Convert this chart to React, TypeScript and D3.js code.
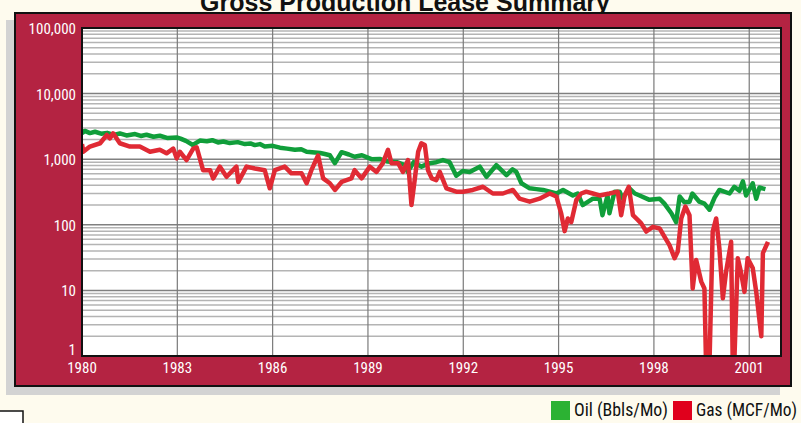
import * as d3 from "d3";
import { useRef, useEffect } from "react";

const titleText = "Gross Production Lease Summary";
const yTicks = [1, 10, 100, 1000, 10000, 100000];
const xTicks = [1980, 1983, 1986, 1989, 1992, 1995, 1998, 2001];
const legendLabels = ["Oil (Bbls/Mo)", "Gas (MCF/Mo)"];

// oil readings (decimal year, bbls/mo)
const oilYears = [
  1980.0, 1980.09, 1980.25, 1980.41, 1980.6, 1980.79, 1981.0, 1981.19, 1981.4, 1981.67,
  1981.85, 1982.03, 1982.25, 1982.45, 1982.7, 1982.98, 1983.1, 1983.27, 1983.49, 1983.71,
  1983.93, 1984.1, 1984.28, 1984.45, 1984.65, 1984.9, 1985.13, 1985.3, 1985.44, 1985.6,
  1985.75, 1986.0, 1986.23, 1986.45, 1986.7, 1986.9, 1987.07, 1987.33, 1987.5, 1987.64,
  1987.8, 1987.96, 1988.17, 1988.4, 1988.58, 1988.81, 1989.11, 1989.37, 1989.62, 1989.91,
  1990.16, 1990.25, 1990.44, 1990.68, 1990.94, 1991.15, 1991.36, 1991.57, 1991.78, 1991.98,
  1992.2, 1992.52, 1992.73, 1993.04, 1993.36, 1993.55, 1993.67, 1993.83, 1994.09, 1994.3,
  1994.51, 1994.72, 1994.93, 1995.14, 1995.45, 1995.6, 1995.76, 1996.08, 1996.29, 1996.38,
  1996.54, 1996.6, 1996.76, 1996.92, 1997.01, 1997.23, 1997.4, 1997.55, 1997.86, 1998.18,
  1998.33, 1998.55, 1998.7, 1998.81, 1998.96, 1999.12, 1999.21, 1999.43, 1999.59, 1999.75,
  1999.91, 2000.06, 2000.38, 2000.53, 2000.69, 2000.8, 2000.9, 2001.11, 2001.22, 2001.32,
  2001.51,
];
const oilValues = [
  2500, 2700, 2500, 2620, 2450, 2520, 2350, 2470, 2300, 2420,
  2260, 2360, 2200, 2280, 2100, 2150, 2060, 1900, 1650, 1920,
  1880, 1950, 1800, 1860, 1760, 1820, 1700, 1740, 1640, 1700,
  1560, 1600, 1500, 1450, 1390, 1420, 1300, 1270, 1240, 1200,
  1150, 870, 1280, 1180, 1090, 1150, 1000, 1010, 920, 900,
  810, 640, 900, 770, 870, 900, 970, 900, 560, 660,
  640, 770, 540, 810, 570, 700, 640, 430, 360, 350,
  340, 320, 300, 340, 280, 300, 200, 250, 250, 140,
  280, 150, 320, 320, 250, 360, 300, 280, 240, 250,
  210, 150, 110, 270, 220, 225, 300, 225, 210, 170,
  260, 340, 300, 380, 330, 460, 280, 430, 250, 370,
  350,
];

// gas readings (decimal year, mcf/mo)
const gasYears = [
  1980.0, 1980.04, 1980.25, 1980.57, 1980.78, 1980.88, 1980.98, 1981.19, 1981.51, 1981.82,
  1982.14, 1982.45, 1982.66, 1982.87, 1982.98, 1983.08, 1983.29, 1983.5, 1983.61, 1983.81,
  1984.03, 1984.13, 1984.34, 1984.55, 1984.86, 1984.92, 1985.18, 1985.44, 1985.75, 1985.91,
  1986.07, 1986.38, 1986.59, 1986.91, 1987.07, 1987.22, 1987.43, 1987.59, 1987.8, 1987.96,
  1988.17, 1988.48, 1988.58, 1988.8, 1989.06, 1989.27, 1989.47, 1989.63, 1989.74, 1989.95,
  1990.1, 1990.26, 1990.37, 1990.47, 1990.58, 1990.68, 1990.79, 1990.89, 1991.01, 1991.15,
  1991.26, 1991.47, 1991.78, 1991.99, 1992.3, 1992.62, 1992.93, 1993.25, 1993.56, 1993.77,
  1994.09, 1994.4, 1994.72, 1994.93, 1995.08, 1995.19, 1995.29, 1995.4, 1995.56, 1995.71,
  1995.87, 1996.08, 1996.29, 1996.6, 1996.86, 1996.97, 1997.08, 1997.21, 1997.34, 1997.5,
  1997.6, 1997.76, 1997.97, 1998.18, 1998.33, 1998.49, 1998.65, 1998.75, 1998.86, 1998.99,
  1999.12, 1999.22, 1999.33, 1999.49, 1999.59, 1999.64, 1999.75, 1999.85, 1999.96, 2000.06,
  2000.17, 2000.27, 2000.43, 2000.48, 2000.53, 2000.64, 2000.74, 2000.85, 2000.95, 2001.11,
  2001.22, 2001.38, 2001.43, 2001.59,
];
const gasValues = [
  1700, 1300, 1560, 1750, 2340, 2080, 2480, 1750, 1560, 1560,
  1300, 1390, 1230, 1450, 1030, 1300, 970, 1450, 1520, 680,
  680, 510, 770, 540, 770, 450, 770, 720, 680, 360,
  680, 770, 610, 610, 430, 680, 1140, 510, 430, 340,
  450, 510, 680, 510, 770, 640, 870, 1390, 870, 870,
  640, 970, 200, 480, 1300, 1750, 1650, 680, 510, 480,
  640, 360, 320, 320, 340, 380, 300, 300, 340, 250,
  225, 250, 300, 270, 150, 80, 125, 110, 240, 300,
  320, 300, 280, 300, 320, 140, 280, 380, 140, 118,
  105, 79, 93, 88, 66, 49, 31, 39, 125, 190,
  140, 10.7, 29, 13.6, 10.7, 0.8, 0.8, 79, 125, 44,
  7.6, 19, 55, 0.8, 0.8, 31, 19, 9.5, 31, 22,
  9.5, 2, 37, 55,
];

const App = () => {
  const container = useRef(null);

  useEffect(() => {
    createChart();
  }, []);

  const createChart = () => {
    let node = container.current;
    let width = 801;
    let height = 423;

    let panel = { x: 14, y: 12, w: 778, h: 375 };
    let plot = { l: 82, r: 781, t: 28, b: 356 };

    let narrow = "'Liberation Sans Narrow', 'Arial Narrow', 'Roboto Condensed', sans-serif";

    let svg = d3
      .select(node)
      .selectAll("svg")
      .data([0])
      .join("svg")
      .attr("width", width)
      .attr("height", height)
      .style("display", "block");

    svg.selectAll("*").remove();

    svg.append("rect").attr("width", width).attr("height", height).attr("fill", "#fefbee");

    // title, cut off by the top of the frame
    svg
      .append("text")
      .attr("x", 405)
      .attr("y", 11)
      .attr("text-anchor", "middle")
      .style("font-family", "'Liberation Sans', Arial, sans-serif")
      .style("font-weight", 700)
      .style("font-size", "25px")
      .attr("fill", "#111")
      .text(titleText);

    // shadow + red panel
    svg
      .append("rect")
      .attr("x", panel.x - 8)
      .attr("y", panel.y + 8)
      .attr("width", panel.w - 4)
      .attr("height", panel.h)
      .attr("fill", "#d3d3d3");
    svg
      .append("rect")
      .attr("x", panel.x + 1)
      .attr("y", panel.y + 1)
      .attr("width", panel.w - 2)
      .attr("height", panel.h - 2)
      .attr("fill", "#b42342")
      .attr("stroke", "#111")
      .attr("stroke-width", 2);

    let xScale = d3.scaleLinear().domain([1980, 2002]).range([plot.l, plot.r]);
    let yScale = d3.scaleLog().domain([1, 100000]).range([plot.b, plot.t]);

    svg
      .append("rect")
      .attr("x", plot.l)
      .attr("y", plot.t)
      .attr("width", plot.r - plot.l)
      .attr("height", plot.b - plot.t)
      .attr("fill", "#ffffff");

    // horizontal grid: minor lines 2..9 per decade, then decades
    let minor = [];
    yTicks.slice(0, -1).forEach((d) => {
      for (let k = 2; k <= 9; k++) minor.push(d * k);
    });
    let gridg = svg.append("g");
    gridg
      .selectAll(".minor")
      .data(minor)
      .join("line")
      .attr("class", "minor")
      .attr("x1", plot.l)
      .attr("x2", plot.r)
      .attr("y1", (d) => yScale(d))
      .attr("y2", (d) => yScale(d))
      .attr("stroke", "#b4b4b4")
      .attr("stroke-width", 1.5);
    gridg
      .selectAll(".major")
      .data(yTicks)
      .join("line")
      .attr("class", "major")
      .attr("x1", plot.l)
      .attr("x2", plot.r)
      .attr("y1", (d) => yScale(d))
      .attr("y2", (d) => yScale(d))
      .attr("stroke", "#808080")
      .attr("stroke-width", 1.5);
    gridg
      .selectAll(".vgrid")
      .data(xTicks)
      .join("line")
      .attr("class", "vgrid")
      .attr("x1", (d) => xScale(d))
      .attr("x2", (d) => xScale(d))
      .attr("y1", plot.t)
      .attr("y2", plot.b)
      .attr("stroke", "#7a7a7a")
      .attr("stroke-width", 1.2);

    // series
    svg
      .append("clipPath")
      .attr("id", "plot-clip")
      .append("rect")
      .attr("x", plot.l)
      .attr("y", plot.t)
      .attr("width", plot.r - plot.l)
      .attr("height", plot.b - plot.t);

    let oil = oilYears.map((t, i) => ({ t, v: oilValues[i] }));
    let gas = gasYears.map((t, i) => ({ t, v: gasValues[i] }));

    let lineGen = d3
      .line()
      .x((d) => xScale(d.t))
      .y((d) => yScale(d.v));

    let seriesg = svg.append("g").attr("clip-path", "url(#plot-clip)");
    seriesg
      .append("path")
      .datum(oil)
      .attr("d", lineGen)
      .attr("fill", "none")
      .attr("stroke", "#109e3a")
      .attr("stroke-width", 4.5)
      .attr("stroke-linejoin", "round");
    seriesg
      .append("path")
      .datum(gas)
      .attr("d", lineGen)
      .attr("fill", "none")
      .attr("stroke", "#e02a34")
      .attr("stroke-width", 4.5)
      .attr("stroke-linejoin", "round");

    // plot border
    svg
      .append("rect")
      .attr("x", plot.l)
      .attr("y", plot.t)
      .attr("width", plot.r - plot.l)
      .attr("height", plot.b - plot.t)
      .attr("fill", "none")
      .attr("stroke", "#111")
      .attr("stroke-width", 2);

    // tick labels
    let fmt = d3.format(",");
    svg
      .append("g")
      .selectAll("text")
      .data(yTicks)
      .join("text")
      .attr("x", plot.l - 6)
      .attr("y", (d) => Math.min(yScale(d) + 6, plot.b - 1))
      .attr("text-anchor", "end")
      .attr("fill", "#ffffff")
      .style("font-family", narrow)
      .style("font-size", "15px")
      .text((d) => fmt(d));
    svg
      .append("g")
      .selectAll("text")
      .data(xTicks)
      .join("text")
      .attr("x", (d) => xScale(d))
      .attr("y", plot.b + 17)
      .attr("text-anchor", "middle")
      .attr("fill", "#ffffff")
      .style("font-family", narrow)
      .style("font-size", "15px")
      .text((d) => d);

    // legend
    let legendColors = ["#2cb233", "#e0001c"];
    let legendX = [551, 673];
    let legendW = [94, 101];
    let legendg = svg.append("g");
    legendg
      .selectAll("rect")
      .data(legendLabels)
      .join("rect")
      .attr("x", (d, i) => legendX[i])
      .attr("y", 401)
      .attr("width", 19)
      .attr("height", 19)
      .attr("fill", (d, i) => legendColors[i]);
    legendg
      .selectAll("text")
      .data(legendLabels)
      .join("text")
      .attr("x", (d, i) => legendX[i] + 23)
      .attr("y", 416)
      .attr("textLength", (d, i) => legendW[i])
      .attr("lengthAdjust", "spacingAndGlyphs")
      .attr("fill", "#111")
      .style("font-family", narrow)
      .style("font-size", "18px")
      .text((d) => d);

    // little box bottom-left
    svg
      .append("rect")
      .attr("x", -2)
      .attr("y", 411)
      .attr("width", 25)
      .attr("height", 20)
      .attr("fill", "#ffffff")
      .attr("stroke", "#111")
      .attr("stroke-width", 1.5);
  };

  return <div ref={container} style={{ position: "absolute", left: 0, top: 0 }}></div>;
};

export default App;
